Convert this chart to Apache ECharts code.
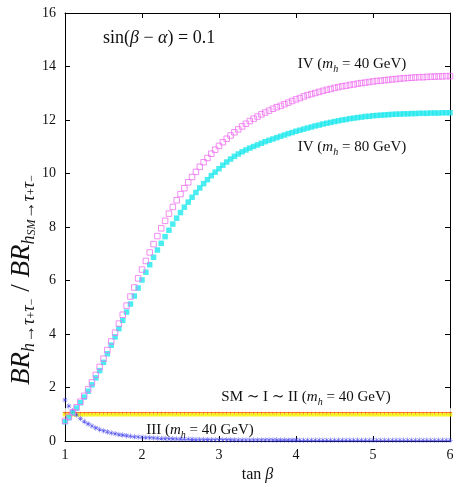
<!DOCTYPE html>
<html>
<head>
<meta charset="utf-8">
<script src="https://cdn.jsdelivr.net/npm/echarts@6/dist/echarts.min.js"></script>
<style>
  html, body { margin: 0; padding: 0; background: #fff; }
  #chart { width: 458px; height: 487px; }
</style>
</head>
<body>
<div id="chart"></div>
<script>
// tan(beta) sampling (step 0.05)
const tanBeta = [
  1.00,1.05,1.10,1.15,1.20,1.25,1.30,1.35,1.40,1.45,
  1.50,1.55,1.60,1.65,1.70,1.75,1.80,1.85,1.90,1.95,
  2.00,2.05,2.10,2.15,2.20,2.25,2.30,2.35,2.40,2.45,
  2.50,2.55,2.60,2.65,2.70,2.75,2.80,2.85,2.90,2.95,
  3.00,3.05,3.10,3.15,3.20,3.25,3.30,3.35,3.40,3.45,
  3.50,3.55,3.60,3.65,3.70,3.75,3.80,3.85,3.90,3.95,
  4.00,4.05,4.10,4.15,4.20,4.25,4.30,4.35,4.40,4.45,
  4.50,4.55,4.60,4.65,4.70,4.75,4.80,4.85,4.90,4.95,
  5.00,5.05,5.10,5.15,5.20,5.25,5.30,5.35,5.40,5.45,
  5.50,5.55,5.60,5.65,5.70,5.75,5.80,5.85,5.90,5.95,
  6.00
];

// type IV, m_h = 40 GeV (open magenta squares)
const typeIV40 = [
  0.75,0.90,1.07,1.26,1.47,1.69,1.93,2.19,2.47,2.77,
  3.08,3.40,3.72,4.05,4.39,4.72,5.06,5.40,5.74,6.08,
  6.41,6.73,7.05,7.36,7.66,7.95,8.23,8.50,8.75,9.00,
  9.23,9.45,9.67,9.87,10.06,10.25,10.42,10.58,10.74,10.89,
  11.03,11.17,11.30,11.42,11.54,11.65,11.76,11.86,11.96,12.05,
  12.13,12.21,12.28,12.35,12.42,12.48,12.53,12.59,12.65,12.71,
  12.77,12.82,12.88,12.93,12.97,13.01,13.05,13.09,13.13,13.16,
  13.20,13.23,13.26,13.28,13.31,13.33,13.36,13.38,13.40,13.42,
  13.44,13.46,13.47,13.49,13.50,13.52,13.53,13.55,13.56,13.57,
  13.58,13.59,13.60,13.60,13.61,13.62,13.62,13.63,13.63,13.64,
  13.64
];

// type IV, m_h = 80 GeV (filled cyan squares)
const typeIV80 = [
  0.72,0.87,1.04,1.23,1.43,1.64,1.86,2.10,2.36,2.63,
  2.94,3.26,3.58,3.89,4.20,4.51,4.82,5.12,5.42,5.72,
  6.02,6.31,6.59,6.87,7.14,7.39,7.64,7.88,8.11,8.33,
  8.54,8.74,8.93,9.11,9.29,9.46,9.62,9.77,9.92,10.05,
  10.18,10.31,10.43,10.54,10.64,10.73,10.81,10.88,10.95,11.01,
  11.07,11.13,11.19,11.24,11.29,11.34,11.39,11.44,11.49,11.53,
  11.58,11.62,11.66,11.70,11.74,11.78,11.81,11.85,11.88,11.91,
  11.94,11.97,12.00,12.02,12.05,12.07,12.09,12.11,12.13,12.14,
  12.16,12.17,12.18,12.19,12.20,12.21,12.22,12.22,12.23,12.23,
  12.24,12.24,12.25,12.25,12.25,12.26,12.26,12.26,12.27,12.27,
  12.27
];

// type III, m_h = 40 GeV (blue stars)
const typeIII40 = [
  1.53,1.31,1.13,0.97,0.84,0.73,0.64,0.56,0.49,0.43,
  0.38,0.34,0.30,0.27,0.24,0.22,0.20,0.18,0.16,0.15,
  0.14,0.13,0.12,0.11,0.10,0.095,0.09,0.085,0.08,0.075,
  0.07,0.067,0.064,0.061,0.058,0.055,0.053,0.051,0.049,0.047,
  0.045,0.044,0.043,0.042,0.041,0.040,0.039,0.038,0.037,0.036,
  0.036,0.035,0.035,0.034,0.034,0.033,0.033,0.033,0.032,0.032,
  0.032,0.031,0.031,0.031,0.031,0.030,0.030,0.030,0.030,0.030,
  0.030,0.029,0.029,0.029,0.029,0.029,0.029,0.029,0.029,0.028,
  0.028,0.028,0.028,0.028,0.028,0.028,0.028,0.028,0.028,0.028,
  0.028,0.028,0.028,0.028,0.028,0.028,0.028,0.028,0.028,0.028,
  0.028
];

// type II (green circles), type I (red), SM (yellow)
const typeII40 = [
  1.16,1.16,1.16,1.16,1.16,1.16,1.16,1.16,1.16,1.16,
  1.16,1.16,1.16,1.16,1.16,1.16,1.16,1.16,1.16,1.16,
  1.16,1.16,1.16,1.16,1.16,1.16,1.16,1.16,1.16,1.16,
  1.16,1.16,1.16,1.16,1.16,1.16,1.16,1.16,1.16,1.16,
  1.16,1.16,1.16,1.16,1.16,1.16,1.16,1.16,1.16,1.16,
  1.16,1.16,1.16,1.16,1.16,1.16,1.16,1.16,1.16,1.16,
  1.16,1.16,1.16,1.16,1.16,1.16,1.16,1.16,1.16,1.16,
  1.16,1.16,1.16,1.16,1.16,1.16,1.16,1.16,1.16,1.16,
  1.16,1.16,1.16,1.16,1.16,1.16,1.16,1.16,1.16,1.16,
  1.16,1.16,1.16,1.16,1.16,1.16,1.16,1.16,1.16,1.16,
  1.16
];
const typeI40 = [
  1.07,1.07,1.07,1.07,1.07,1.07,1.07,1.07,1.07,1.07,
  1.07,1.07,1.07,1.07,1.07,1.07,1.07,1.07,1.07,1.07,
  1.07,1.07,1.07,1.07,1.07,1.07,1.07,1.07,1.07,1.07,
  1.07,1.07,1.07,1.07,1.07,1.07,1.07,1.07,1.07,1.07,
  1.07,1.07,1.07,1.07,1.07,1.07,1.07,1.07,1.07,1.07,
  1.07,1.07,1.07,1.07,1.07,1.07,1.07,1.07,1.07,1.07,
  1.07,1.07,1.07,1.07,1.07,1.07,1.07,1.07,1.07,1.07,
  1.07,1.07,1.07,1.07,1.07,1.07,1.07,1.07,1.07,1.07,
  1.07,1.07,1.07,1.07,1.07,1.07,1.07,1.07,1.07,1.07,
  1.07,1.07,1.07,1.07,1.07,1.07,1.07,1.07,1.07,1.07,
  1.07
];
const smLike = [
  1.00,1.00,1.00,1.00,1.00,1.00,1.00,1.00,1.00,1.00,
  1.00,1.00,1.00,1.00,1.00,1.00,1.00,1.00,1.00,1.00,
  1.00,1.00,1.00,1.00,1.00,1.00,1.00,1.00,1.00,1.00,
  1.00,1.00,1.00,1.00,1.00,1.00,1.00,1.00,1.00,1.00,
  1.00,1.00,1.00,1.00,1.00,1.00,1.00,1.00,1.00,1.00,
  1.00,1.00,1.00,1.00,1.00,1.00,1.00,1.00,1.00,1.00,
  1.00,1.00,1.00,1.00,1.00,1.00,1.00,1.00,1.00,1.00,
  1.00,1.00,1.00,1.00,1.00,1.00,1.00,1.00,1.00,1.00,
  1.00,1.00,1.00,1.00,1.00,1.00,1.00,1.00,1.00,1.00,
  1.00,1.00,1.00,1.00,1.00,1.00,1.00,1.00,1.00,1.00,
  1.00
];

const xTicks = [1, 2, 3, 4, 5, 6];
const yTicks = [0, 2, 4, 6, 8, 10, 12, 14, 16];

const chart = echarts.init(document.getElementById('chart'));
const serif = '"Liberation Serif", "DejaVu Serif", serif';

const pairs = arr => tanBeta.map((x, i) => [x, arr[i]]);

const starPath = 'path://M4.5,0h1v10h-1z M0,4.5h10v1h-10z M1.3,2l0.7,-0.7l6.7,6.7l-0.7,0.7z M8,1.3l0.7,0.7l-6.7,6.7l-0.7,-0.7z';
const plusPath = 'path://M4.3,0h1.4v10h-1.4z M0,4.3h10v1.4h-10z';

function scatter(name, arr, symbol, size, color, extra) {
  return Object.assign({
    name: name,
    type: 'scatter',
    data: pairs(arr),
    symbol: symbol,
    symbolSize: size,
    itemStyle: { color: color },
    silent: true,
    xAxisIndex: 0,
    yAxisIndex: 0
  }, extra || {});
}

const axisCommon = {
  axisLine: { show: true, onZero: false, lineStyle: { color: '#000', width: 1 } },
  axisTick: { show: true, inside: true, length: 5, lineStyle: { color: '#000' } },
  splitLine: { show: false }
};

const rich = {
  n: { fontFamily: serif, fontSize: 16, color: '#111' },
  i: { fontFamily: serif, fontSize: 15, fontStyle: 'italic', color: '#111', lineHeight: 20 },
  ix: { fontFamily: serif, fontSize: 16, fontStyle: 'italic', color: '#111', lineHeight: 20 },
  s: { fontFamily: serif, fontSize: 10, fontStyle: 'italic', color: '#111', verticalAlign: 'bottom', lineHeight: 14 },
  t: { fontFamily: serif, fontSize: 18, color: '#111', lineHeight: 22 },
  ti: { fontFamily: serif, fontSize: 18, fontStyle: 'italic', color: '#111', lineHeight: 22 }
};

const yRich = {
  b: { fontFamily: serif, fontSize: 27, fontStyle: 'italic', color: '#111', lineHeight: 32 },
  m: { fontFamily: serif, fontSize: 27, color: '#111', lineHeight: 32 },
  s: { fontFamily: serif, fontSize: 18, fontStyle: 'italic', color: '#111', verticalAlign: 'bottom', lineHeight: 20 },
  q: { fontFamily: serif, fontSize: 12, fontStyle: 'italic', color: '#111', verticalAlign: 'bottom', lineHeight: 12 },
  p: { fontFamily: serif, fontSize: 12, color: '#111', verticalAlign: 'bottom', lineHeight: 27 }
};

function label(text, x, y, align) {
  return {
    type: 'text',
    x: x,
    y: y,
    silent: true,
    style: {
      text: text,
      align: align || 'center',
      verticalAlign: 'middle',
      rich: rich,
      font: '15px ' + serif,
      fill: '#111'
    }
  };
}

const option = {
  animation: false,
  backgroundColor: '#fff',
  grid: { left: 65, right: 8, top: 13, bottom: 46, outerBoundsMode: 'none', containLabel: false },
  xAxis: [
    Object.assign({
      type: 'value', min: 1, max: 6, interval: 1,
      name: '{n|tan }{ix|β}',
      nameLocation: 'middle', nameGap: 22,
      nameTextStyle: { rich: rich },
      axisLabel: {
        fontFamily: serif, fontSize: 14, color: '#111', margin: 7,
        formatter: v => xTicks.includes(v) ? String(v) : ''
      }
    }, axisCommon),
    Object.assign({
      type: 'value', min: 1, max: 6, interval: 1, position: 'top',
      axisLabel: { show: false }
    }, axisCommon)
  ],
  yAxis: [
    Object.assign({
      type: 'value', min: 0, max: 16, interval: 2,
      axisLabel: {
        fontFamily: serif, fontSize: 14, color: '#111', margin: 9,
        formatter: v => yTicks.includes(v) ? String(v) : ''
      }
    }, axisCommon),
    Object.assign({
      type: 'value', min: 0, max: 16, interval: 2, position: 'right',
      axisLabel: { show: false }
    }, axisCommon)
  ],
  series: [
    scatter('SM', smLike, 'rect', 4.5, '#f2f200'),
    scatter('I', typeI40, plusPath, 4, '#ff2a2a'),
    scatter('II', typeII40, 'emptyCircle', 4, '#33e033', {
      itemStyle: { color: 'rgba(255,255,255,0)', borderColor: '#33e033', borderWidth: 1 }
    }),
    scatter('III', typeIII40, starPath, 5.5, '#3a3aee'),
    scatter('IV 80', typeIV80, 'rect', 5.5, '#1ee8ee'),
    scatter('IV 40', typeIV40, 'rect', 5.5, '#f070f0', {
      itemStyle: { color: 'rgba(255,255,255,0)', borderColor: '#f070f0', borderWidth: 1 }
    })
  ],
  graphic: [
    {
      type: 'text',
      x: 22,
      y: 280,
      rotation: Math.PI / 2,
      silent: true,
      style: {
        text: '{b|BR}{s|h→τ}{p|+}{s|τ}{p|−}{m| / }{b|BR}{s|h}{q|SM}{s|→τ}{p|+}{s|τ}{p|−}',
        align: 'center',
        verticalAlign: 'middle',
        rich: yRich,
        fill: '#111'
      }
    },
    label('{t|sin(}{ti|β}{t| − }{ti|α}{t|) = 0.1}', 103, 38, 'left'),
    label('IV ({i|m}{s|h} = 40 GeV)', 352, 64),
    label('IV ({i|m}{s|h} = 80 GeV)', 352, 147),
    label('SM ∼ I ∼ II ({i|m}{s|h} = 40 GeV)', 306, 397),
    label('III ({i|m}{s|h} = 40 GeV)', 200, 430)
  ]
};

chart.setOption(option);
</script>
</body>
</html>
